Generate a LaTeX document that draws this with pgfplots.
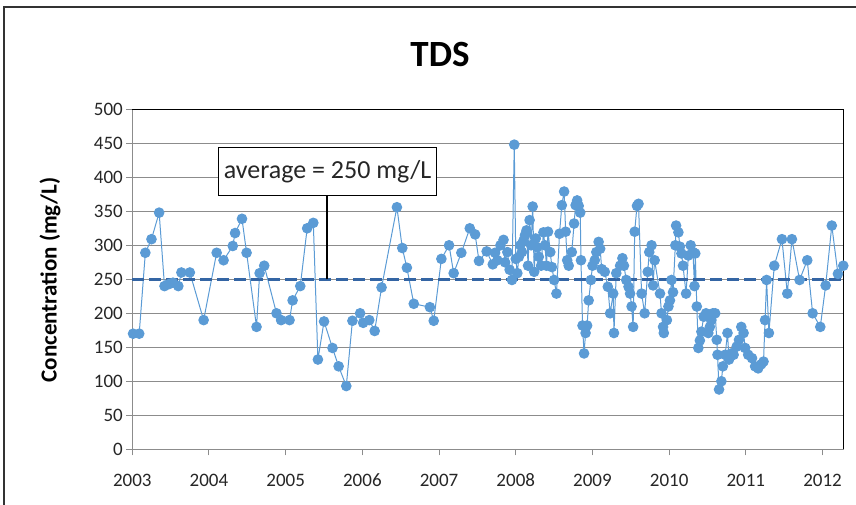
\documentclass[border=0pt]{standalone}
\usepackage{fontspec}
\setmainfont{Carlito}
\usepackage{pgfplots}
\pgfplotsset{compat=1.18}
\definecolor{ser}{HTML}{5B9BD5}
\definecolor{avg}{HTML}{3465A4}
\definecolor{grd}{HTML}{8C8C8C}
\definecolor{txt}{HTML}{262626}
\begin{document}
\begin{tikzpicture}
\useasboundingbox (-132.3pt,-55.7pt) rectangle (723.7pt,449.3pt);
\draw[line width=1.3pt, black!80] (-128.3pt,-80pt) -- (-128.3pt,442.3pt) -- (760pt,442.3pt);
\begin{axis}[
  at={(0pt,0pt)}, anchor=south west,
  scale only axis, width=711pt, height=340pt,
  xmin=2003, xmax=2012.27, ymin=0, ymax=500,
  xtick={2003,2004,...,2012}, ytick={0,50,...,500},
  xticklabel style={/pgf/number format/1000 sep={}, font=\fontsize{19}{22}\selectfont, text=txt, yshift=-15pt},
  yticklabel style={font=\fontsize{19}{22}\selectfont, text=txt},
  /pgf/number format/assume math mode=true,
  tick align=outside, major tick length=6pt,
  tick style={grd, line width=1pt},
  xtick pos=bottom, ytick pos=left,
  axis line style={grd, line width=1pt},
  ymajorgrids, grid style={grd, line width=1pt},
  clip=false,
]
\addplot[color=ser, line width=1pt, mark=*, mark size=4.8pt, mark options={fill=ser, draw=ser}] table {
x y
2003.01 170
2003.09 170
2003.17 289
2003.25 309
2003.35 348
2003.42 240
2003.48 243
2003.53 245
2003.60 240
2003.64 260
2003.75 260
2003.93 190
2004.10 289
2004.19 278
2004.31 299
2004.34 318
2004.43 339
2004.49 289
2004.62 180
2004.66 259
2004.72 270
2004.88 200
2004.94 190
2005.05 190
2005.09 219
2005.19 240
2005.28 325
2005.36 333
2005.42 132
2005.50 188
2005.61 149
2005.69 122
2005.79 93
2005.87 189
2005.97 200
2006.01 186
2006.09 190
2006.16 174
2006.25 238
2006.45 356
2006.52 296
2006.58 267
2006.67 214
2006.88 209
2006.93 189
2007.03 280
2007.13 300
2007.19 259
2007.29 289
2007.40 325
2007.47 316
2007.52 277
2007.62 291
2007.70 272
2007.73 289
2007.76 278
2007.80 300
2007.84 308
2007.86 275
2007.89 290
2007.92 264
2007.95 249
2007.98 448
2008.00 280
2008.02 259
2008.04 283
2008.06 300
2008.08 290
2008.10 307
2008.12 315
2008.14 322
2008.16 270
2008.18 337
2008.20 300
2008.22 357
2008.24 261
2008.26 310
2008.28 297
2008.30 283
2008.33 270
2008.36 319
2008.38 300
2008.40 270
2008.42 320
2008.45 290
2008.47 268
2008.50 249
2008.53 229
2008.57 317
2008.60 359
2008.63 379
2008.65 320
2008.67 278
2008.69 270
2008.73 290
2008.76 332
2008.78 359
2008.80 366
2008.82 358
2008.84 348
2008.85 278
2008.87 182
2008.89 141
2008.91 171
2008.93 182
2008.95 219
2008.98 249
2009.00 270
2009.03 278
2009.05 290
2009.08 305
2009.10 295
2009.12 265
2009.16 261
2009.20 239
2009.23 200
2009.27 229
2009.28 171
2009.31 259
2009.36 270
2009.39 281
2009.41 270
2009.44 249
2009.47 239
2009.49 229
2009.51 210
2009.53 180
2009.55 320
2009.58 358
2009.60 361
2009.64 229
2009.68 200
2009.72 261
2009.74 290
2009.77 300
2009.79 241
2009.81 278
2009.88 229
2009.90 200
2009.92 180
2009.93 171
2009.97 190
2009.99 210
2010.01 219
2010.03 249
2010.05 231
2010.08 300
2010.09 329
2010.12 319
2010.14 298
2010.16 288
2010.18 270
2010.22 229
2010.25 285
2010.28 300
2010.31 290
2010.33 240
2010.34 288
2010.36 210
2010.38 149
2010.40 160
2010.42 173
2010.45 195
2010.48 200
2010.51 171
2010.53 180
2010.55 190
2010.57 200
2010.60 200
2010.62 161
2010.63 139
2010.65 88
2010.68 100
2010.70 122
2010.73 139
2010.76 171
2010.78 132
2010.81 141
2010.84 139
2010.88 151
2010.91 161
2010.94 180
2010.97 171
2010.99 149
2011.03 139
2011.08 134
2011.12 122
2011.16 119
2011.20 125
2011.23 129
2011.25 190
2011.27 249
2011.30 171
2011.37 270
2011.47 309
2011.54 229
2011.60 309
2011.70 249
2011.80 278
2011.87 200
2011.97 180
2012.04 241
2012.12 329
2012.20 258
2012.27 270
};
\addplot[color=avg, line width=3.2pt, dash pattern=on 12pt off 5pt] coordinates {(2003,250) (2012.27,250)};
\draw[black, line width=1pt] (rel axis cs:0,1) -- (rel axis cs:1,1) -- (rel axis cs:1,0);
\draw[black, line width=1.5pt] (axis cs:2005.54,250) -- (axis cs:2005.54,390);
\node[draw=black, line width=1.3pt, fill=white, minimum width=217.7pt, minimum height=48.4pt, inner sep=0pt, font=\fontsize{26}{30}\selectfont, text=txt] at (axis cs:2005.545,408.5) {average = 250 mg/L};
\end{axis}
\node[font=\fontsize{37}{44}\bfseries\selectfont, text=black] at (307.7pt,394.3pt) {TDS};
\node[rotate=90, font=\fontsize{23}{27}\bfseries\selectfont, text=black] at (-82.3pt,169.3pt) {Concentration (mg/L)};
\end{tikzpicture}
\end{document}
